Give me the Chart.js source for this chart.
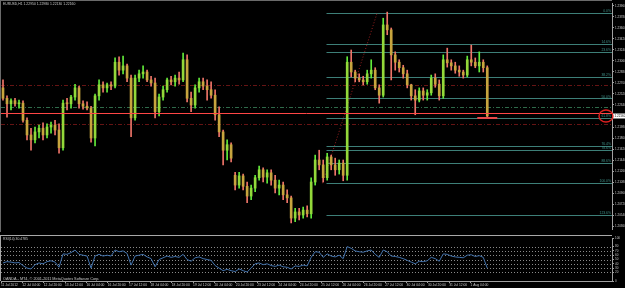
<!DOCTYPE html>
<html>
<head>
<meta charset="utf-8">
<script src="https://cdn.jsdelivr.net/npm/chart.js@4.4.1/dist/chart.umd.min.js"></script>
<style>
html, body { margin: 0; padding: 0; background: #000; }
#wrap { position: relative; width: 625px; height: 288px; background: #000; overflow: hidden; }
#main { position: absolute; left: 0; top: 0; }
#rsi { position: absolute; left: 0; top: 232px; }
</style>
</head>
<body>
<div id="wrap">
  <canvas id="main" width="625" height="232"></canvas>
  <canvas id="rsi" width="625" height="56"></canvas>
</div>
<script>
var barHours = 3;
var opens = [1.2262,1.2245,1.2236,1.2241,1.2236,1.2237,1.2209,1.2185,1.2177,1.2190,
  1.2196,1.2185,1.2198,1.2201,1.2193,1.2164,1.2237,1.2236,1.2247,1.2262,
  1.2236,1.2232,1.2229,1.2180,1.2249,1.2267,1.2262,1.2267,1.2265,1.2304,
  1.2291,1.2298,1.2278,1.2213,1.2278,1.2285,1.2288,1.2275,1.2270,1.2223,
  1.2247,1.2259,1.2275,1.2272,1.2278,1.2275,1.2308,1.2245,1.2234,1.2262,
  1.2272,1.2265,1.2259,1.2250,1.2218,1.2190,1.2160,1.2169,1.2119,1.2103,
  1.2118,1.2101,1.2085,1.2098,1.2115,1.2128,1.2116,1.2123,1.2111,1.2098,
  1.2103,1.2087,1.2082,1.2049,1.2059,1.2054,1.2062,1.2056,1.2108,1.2144,
  1.2136,1.2115,1.2149,1.2136,1.2128,1.2139,1.2119,1.2304,1.2288,1.2278,
  1.2275,1.2272,1.2285,1.2291,1.2262,1.2250,1.2365,1.2357,1.2316,1.2304,
  1.2295,1.2285,1.2267,1.2249,1.2242,1.2257,1.2250,1.2254,1.2278,1.2268,
  1.2249,1.2308,1.2303,1.2298,1.2291,1.2288,1.2283,1.2308,1.2304,1.2298,
  1.2304,1.2295];
var highs = [1.2275,1.2249,1.2244,1.2245,1.2242,1.2241,1.2213,1.2196,1.2198,1.2201,
  1.2205,1.2203,1.2206,1.2209,1.2203,1.2242,1.2245,1.2250,1.2268,1.2265,
  1.2241,1.2239,1.2232,1.2252,1.2275,1.2272,1.2270,1.2272,1.2311,1.2313,
  1.2314,1.2301,1.2283,1.2283,1.2291,1.2298,1.2291,1.2281,1.2278,1.2252,
  1.2265,1.2278,1.2281,1.2283,1.2288,1.2319,1.2316,1.2255,1.2267,1.2278,
  1.2278,1.2275,1.2272,1.2259,1.2231,1.2193,1.2177,1.2172,1.2124,1.2124,
  1.2121,1.2108,1.2103,1.2119,1.2134,1.2131,1.2128,1.2128,1.2119,1.2111,
  1.2108,1.2095,1.2085,1.2065,1.2065,1.2067,1.2069,1.2115,1.2152,1.2160,
  1.2144,1.2155,1.2152,1.2147,1.2144,1.2144,1.2313,1.2324,1.2291,1.2285,
  1.2281,1.2291,1.2308,1.2295,1.2267,1.2376,1.2386,1.2360,1.2321,1.2308,
  1.2299,1.2291,1.2268,1.2259,1.2262,1.2262,1.2259,1.2283,1.2285,1.2275,
  1.2316,1.2327,1.2308,1.2304,1.2298,1.2291,1.2314,1.2332,1.2311,1.2321,
  1.2308,1.2298];
var lows = [1.2242,1.2214,1.2226,1.2232,1.2229,1.2206,1.2177,1.2160,1.2172,1.2180,
  1.2177,1.2180,1.2188,1.2185,1.2155,1.2160,1.2226,1.2229,1.2242,1.2229,
  1.2227,1.2226,1.2173,1.2167,1.2242,1.2255,1.2255,1.2259,1.2262,1.2283,
  1.2285,1.2272,1.2182,1.2209,1.2272,1.2278,1.2272,1.2265,1.2213,1.2216,
  1.2242,1.2255,1.2267,1.2265,1.2268,1.2272,1.2239,1.2223,1.2229,1.2255,
  1.2259,1.2242,1.2245,1.2209,1.2182,1.2136,1.2144,1.2141,1.2095,1.2098,
  1.2095,1.2074,1.2079,1.2092,1.2111,1.2108,1.2106,1.2103,1.2090,1.2087,
  1.2079,1.2074,1.2041,1.2043,1.2046,1.2049,1.2051,1.2049,1.2103,1.2128,
  1.2108,1.2111,1.2128,1.2119,1.2121,1.2110,1.2111,1.2280,1.2272,1.2272,
  1.2267,1.2268,1.2278,1.2259,1.2237,1.2247,1.2349,1.2275,1.2291,1.2288,
  1.2278,1.2262,1.2242,1.2218,1.2239,1.2242,1.2242,1.2250,1.2263,1.2242,
  1.2245,1.2296,1.2291,1.2286,1.2281,1.2278,1.2280,1.2298,1.2295,1.2288,
  1.2288,1.2213];
var closes = [1.2245,1.2236,1.2241,1.2236,1.2237,1.2209,1.2185,1.2177,1.2190,1.2196,
  1.2185,1.2198,1.2201,1.2193,1.2164,1.2237,1.2236,1.2247,1.2262,1.2236,
  1.2232,1.2229,1.2180,1.2249,1.2267,1.2262,1.2267,1.2265,1.2304,1.2291,
  1.2298,1.2278,1.2213,1.2278,1.2285,1.2288,1.2275,1.2270,1.2223,1.2247,
  1.2259,1.2275,1.2272,1.2278,1.2275,1.2308,1.2245,1.2234,1.2262,1.2272,
  1.2265,1.2259,1.2250,1.2218,1.2190,1.2160,1.2169,1.2147,1.2103,1.2118,
  1.2101,1.2085,1.2098,1.2115,1.2128,1.2116,1.2123,1.2111,1.2098,1.2103,
  1.2087,1.2082,1.2049,1.2059,1.2054,1.2062,1.2056,1.2108,1.2144,1.2136,
  1.2115,1.2149,1.2136,1.2128,1.2139,1.2119,1.2304,1.2288,1.2278,1.2275,
  1.2272,1.2285,1.2291,1.2262,1.2250,1.2365,1.2357,1.2316,1.2304,1.2295,
  1.2285,1.2267,1.2249,1.2242,1.2257,1.2250,1.2254,1.2278,1.2268,1.2249,
  1.2308,1.2303,1.2298,1.2291,1.2288,1.2283,1.2308,1.2304,1.2298,1.2304,
  1.2295,1.2216];
var rsiValues = [42,45,44,42,43,36,30,28,38,42,
  40,45,47,44,32,63,62,66,72,62,
  60,58,30,58,62,58,60,58,72,68,
  70,64,37,58,60,62,56,52,33,50,
  54,58,55,57,55,62,50,46,54,56,
  52,50,48,36,30,24,27,24,22,28,
  24,21,30,40,42,38,40,36,34,37,
  33,32,28,35,34,37,35,55,68,67,
  55,63,58,56,60,52,80,76,70,68,
  67,70,72,62,55,72,68,58,57,55,
  52,48,44,40,46,45,47,55,52,46,
  63,62,58,56,55,54,60,61,57,59,
  55,30];

var priceTicks = [1.23960,1.23780,1.23600,1.23420,1.23240,1.23060,1.22880,1.22700,1.22520,1.22340,
  1.22160,1.21980,1.21800,1.21620,1.21440,1.21260,1.21080,1.20900,1.20720,1.20540,1.20360];
var xTickHours = [0,16,32,48,64,80,96,112,128,144,160,176,192,208,224,240,256,272,288,304,320,336,352];
var xTickLabels = ["11 Jul 2012","12 Jul 04:00","12 Jul 20:00","13 Jul 12:00","16 Jul 04:00","16 Jul 20:00",
  "17 Jul 12:00","18 Jul 04:00","18 Jul 20:00","19 Jul 12:00","20 Jul 04:00","20 Jul 20:00","23 Jul 12:00",
  "24 Jul 04:00","24 Jul 20:00","25 Jul 12:00","26 Jul 04:00","26 Jul 20:00","27 Jul 12:00","30 Jul 04:00",
  "30 Jul 20:00","31 Jul 12:00","1 Aug 04:00"];
var rsiTicks = [0,20,30,40,50,60,70,80,100];
var rsiLevels = [20,30,40,50,60,70,80];

// fibonacci retracement and the hand-drawn lines
var fibLabels = ["0.0%","14.6%","23.6%","38.2%","50.0%","61.8%","76.4%","78.6%","88.6%","100.0%","123.6%"];
var fibPrices = [1.2385,1.2334,1.2321,1.2280,1.2245,1.2213,1.2167,1.2160,1.2139,1.2106,1.2054];
var fibStartHour = 244;
var fibTrend = [{x: 241, y: 1.2106}, {x: 282, y: 1.2385}];
var redLinePrice = 1.2221;
var greenDashPrice = 1.2231;
var redDashPrices = [1.2267, 1.2203];
var shortRed = [{x: 357, y: 1.2212}, {x: 372, y: 1.2212}];
var headerText = "EURUSD,H1 1.22950 1.22980 1.22130 1.22160";

var totalHours = 458;
var upWick = "#62ea3a", upBody = "#93d83a", downWick = "#ee7468", downBody = "#c7a53e";

var wicks = [], bodies = [], wickColors = [], bodyColors = [];
for (var i = 0; i < closes.length; i++) {
    var h = i * barHours + barHours / 2;
    var up = closes[i] >= opens[i];
    wicks.push({x: h, y: [lows[i], highs[i]]});
    bodies.push({x: h, y: [opens[i], closes[i]]});
    wickColors.push(up ? upWick : downWick);
    bodyColors.push(up ? upBody : downBody);
}
var rsiPoints = rsiValues.map(function(v, i) { return {x: i * barHours + barHours / 2, y: v}; });

var tinyFont = "3.4px 'Liberation Sans', Arial, sans-serif";

function hLine(ctx, y, x0, x1, color, dash, width) {
    ctx.strokeStyle = color;
    ctx.lineWidth = width || 1;
    ctx.setLineDash(dash || []);
    ctx.beginPath();
    ctx.moveTo(x0, y);
    ctx.lineTo(x1, y);
    ctx.stroke();
}

var mainOverlay = {
    id: "mainOverlay",
    beforeDatasetsDraw: function(chart) {
        var ctx = chart.ctx, xs = chart.scales.x, ys = chart.scales.y, a = chart.chartArea;
        ctx.save();
        ctx.beginPath();
        ctx.rect(a.left, a.top, a.right - a.left, a.bottom - a.top);
        ctx.clip();
        var fx = xs.getPixelForValue(fibStartHour);
        fibPrices.forEach(function(p) {
            hLine(ctx, Math.round(ys.getPixelForValue(p)) + 0.5, fx, a.right, "#3d7f78");
        });
        redDashPrices.forEach(function(p) {
            hLine(ctx, Math.round(ys.getPixelForValue(p)) + 0.5, a.left, a.right, "#661414", [4, 2, 1, 2]);
        });
        hLine(ctx, Math.round(ys.getPixelForValue(greenDashPrice)) + 0.5, a.left, a.right, "#2f6a4a", [4, 2, 1, 2]);
        // fibo base line (dotted)
        ctx.strokeStyle = "#9a2020";
        ctx.setLineDash([1, 2]);
        ctx.beginPath();
        ctx.moveTo(xs.getPixelForValue(fibTrend[0].x), ys.getPixelForValue(fibTrend[0].y));
        ctx.lineTo(xs.getPixelForValue(fibTrend[1].x), ys.getPixelForValue(fibTrend[1].y));
        ctx.stroke();
        ctx.restore();
    },
    afterDraw: function(chart) {
        var ctx = chart.ctx, xs = chart.scales.x, ys = chart.scales.y, a = chart.chartArea;
        ctx.save();
        // horizontal line on the current level
        var ry = Math.round(ys.getPixelForValue(redLinePrice)) + 0.5;
        hLine(ctx, ry, a.left, a.right, "#ff4646", [], 1);
        var sy = Math.round(ys.getPixelForValue(shortRed[0].y));
        hLine(ctx, sy, xs.getPixelForValue(shortRed[0].x), xs.getPixelForValue(shortRed[1].x), "#e8484a", [], 2);

        ctx.font = tinyFont;
        ctx.fillStyle = "#3f938a";
        ctx.textAlign = "right";
        ctx.textBaseline = "bottom";
        fibPrices.forEach(function(p, k) {
            ctx.fillText(fibLabels[k], a.right - 1, ys.getPixelForValue(p));
        });

        ctx.fillStyle = "#c8c8c8";
        ctx.textAlign = "left";
        ctx.textBaseline = "middle";
        ctx.fillText(headerText, 3, 4);

        // frame
        hLine(ctx, 0.5, 0, a.right, "#6a6a6a");
        ctx.beginPath();
        ctx.moveTo(0.5, 0);
        ctx.lineTo(0.5, chart.height);
        ctx.stroke();

        // last price box on the axis, circled
        var last = closes[closes.length - 1];
        var py = ys.getPixelForValue(last);
        ctx.fillStyle = "#ffffff";
        ctx.fillRect(a.right + 1, py - 2.5, chart.width - a.right - 1, 5);
        ctx.fillStyle = "#000";
        ctx.font = "3px 'Liberation Sans', Arial, sans-serif";
        ctx.fillText(last.toFixed(5), a.right + 2.5, py);
        ctx.strokeStyle = "#e02020";
        ctx.lineWidth = 1.4;
        ctx.beginPath();
        ctx.ellipse(a.right - 6, py, 7, 6, 0, 0, Math.PI * 2);
        ctx.stroke();
        ctx.restore();
    }
};

new Chart(document.getElementById("main"), {
    type: "bar",
    data: {
        datasets: [
            { data: wicks, backgroundColor: wickColors, barThickness: 1, grouped: false, order: 2 },
            { data: bodies, backgroundColor: bodyColors, barThickness: 2, grouped: false, minBarLength: 1, order: 1 }
        ]
    },
    options: {
        responsive: false,
        animation: false,
        layout: { padding: { left: 1, top: 3, bottom: 3, right: 0 } },
        plugins: { legend: { display: false }, tooltip: { enabled: false } },
        scales: {
            x: { type: "linear", min: 0, max: totalHours, offset: false, display: false },
            y: {
                position: "right",
                min: 1.20311,
                max: 1.24009,
                afterFit: function(s) { s.width = 13; },
                afterBuildTicks: function(s) { s.ticks = priceTicks.map(function(v) { return {value: v}; }); },
                ticks: {
                    autoSkip: false,
                    padding: 1,
                    color: "#c8c8c8",
                    font: { size: 3, family: "'Liberation Sans', Arial, sans-serif" },
                    callback: function(v) { return v.toFixed(5); }
                },
                grid: { drawOnChartArea: false, tickLength: 2, color: "#a0a0a0" },
                border: { color: "#a0a0a0" }
            }
        }
    },
    plugins: [mainOverlay]
});

var rsiOverlay = {
    id: "rsiOverlay",
    beforeDatasetsDraw: function(chart) {
        var ctx = chart.ctx, ys = chart.scales.y, a = chart.chartArea;
        ctx.save();
        rsiLevels.forEach(function(v) {
            hLine(ctx, Math.round(ys.getPixelForValue(v)) + 0.5, a.left, a.right, "#8a8a8a", [1, 2]);
        });
        ctx.restore();
    },
    afterDatasetsDraw: function(chart) {
        var ctx = chart.ctx, a = chart.chartArea;
        ctx.save();
        hLine(ctx, 3.5, 0, a.right, "#a8a8a8");
        ctx.beginPath();
        ctx.moveTo(0.5, 3);
        ctx.lineTo(0.5, a.bottom);
        ctx.stroke();
        ctx.font = tinyFont;
        ctx.fillStyle = "#c8c8c8";
        ctx.textAlign = "left";
        ctx.textBaseline = "middle";
        ctx.fillText("RSI(14) 30.4785", 3, 7);
        ctx.font = "3.8px 'Liberation Sans', Arial, sans-serif";
        ctx.fillText("OANDA - MT4, \u00a9 2001-2011 MetaQuotes Software Corp.", 3, 46.5);
        ctx.restore();
    }
};

new Chart(document.getElementById("rsi"), {
    type: "line",
    data: {
        datasets: [{ data: rsiPoints, borderColor: "#4272ac", borderWidth: 1, pointRadius: 0, tension: 0 }]
    },
    options: {
        responsive: false,
        animation: false,
        layout: { padding: { left: 1, top: 6, right: 0, bottom: 0 } },
        plugins: { legend: { display: false }, tooltip: { enabled: false } },
        scales: {
            x: {
                type: "linear",
                min: 0,
                max: totalHours,
                afterFit: function(s) { s.height = 7; },
                afterBuildTicks: function(s) { s.ticks = xTickHours.map(function(v) { return {value: v}; }); },
                ticks: {
                    autoSkip: false,
                    maxRotation: 0,
                    align: "start",
                    padding: 0.5,
                    color: "#c8c8c8",
                    font: { size: 3.3, family: "'Liberation Sans', Arial, sans-serif" },
                    callback: function(v) { return xTickLabels[xTickHours.indexOf(v)]; }
                },
                grid: { drawOnChartArea: false, tickLength: 2, color: "#a0a0a0" },
                border: { color: "#a0a0a0" }
            },
            y: {
                position: "right",
                min: 0,
                max: 100,
                afterFit: function(s) { s.width = 13; },
                afterBuildTicks: function(s) { s.ticks = rsiTicks.map(function(v) { return {value: v}; }); },
                ticks: {
                    autoSkip: false,
                    padding: 1,
                    color: "#c8c8c8",
                    font: { size: 3, family: "'Liberation Sans', Arial, sans-serif" }
                },
                grid: { drawOnChartArea: false, tickLength: 2, color: "#a0a0a0" },
                border: { color: "#a0a0a0" }
            }
        }
    },
    plugins: [rsiOverlay]
});
</script>
</body>
</html>
